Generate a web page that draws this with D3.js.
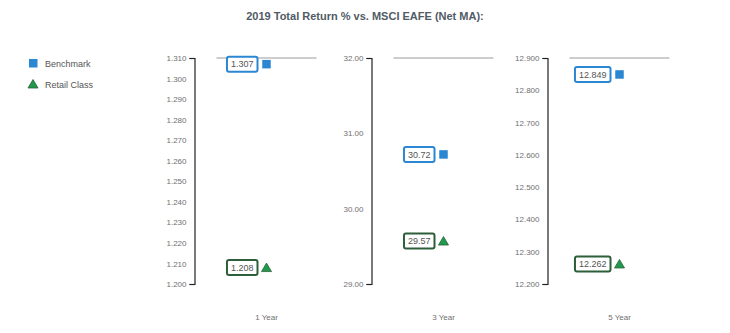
<!DOCTYPE html>
<html><head><meta charset="utf-8">
<script src="https://cdn.jsdelivr.net/npm/d3@7"></script>
<style>
body{margin:0;background:#fff;}
text{font-family:"Liberation Sans",Arial,sans-serif;}
</style></head>
<body><svg id="c" width="730" height="333"></svg>
<script>
const title = "2019 Total Return % vs. MSCI EAFE (Net MA):";
const categories = ["1 Year", "3 Year", "5 Year"];
const seriesNames = ["Benchmark", "Retail Class"];
const benchmark = [1.307, 30.72, 12.849];
const retail = [1.208, 29.57, 12.262];
const benchmarkLabels = ["1.307", "30.72", "12.849"];
const retailLabels = ["1.208", "29.57", "12.262"];
const domains = [[1.200, 1.310], [29.00, 32.00], [12.200, 12.900]];
const tickStep = [0.01, 1, 0.1];
const tickFormat = [".3f", ".2f", ".3f"];

const svg = d3.select("#c");
const blue = "#2c87d2", green = "#1f9a4c", greenStroke = "#2d5f3b";
const textCol = "#6f6f6f";
const tri = d3.line()([[-5, 4], [0, -4.5], [5, 4]]) + "Z";

svg.append("text").attr("x", 365).attr("y", 20).attr("text-anchor", "middle")
  .attr("font-size", 11).attr("font-weight", "bold").attr("fill", "#505b66").text(title);

// legend
const lg = svg.append("g");
lg.append("rect").attr("x", 29).attr("y", 59).attr("width", 8.5).attr("height", 8.5).attr("fill", blue);
lg.append("text").attr("x", 45).attr("y", 66.5).attr("font-size", 9).attr("fill", "#555").text(seriesNames[0]);
lg.append("path").attr("d", tri).attr("transform", "translate(33,84)")
  .attr("fill", green).attr("stroke", greenStroke).attr("stroke-width", 0.8);
lg.append("text").attr("x", 45).attr("y", 87.5).attr("font-size", 9).attr("fill", "#555").text(seriesNames[1]);

const axisX = [194.5, 371.5, 547.5];
const yTop = 58, yBot = 284;

categories.forEach((cat, i) => {
  const y = d3.scaleLinear().domain(domains[i]).range([yBot, yTop]);
  const ticks = d3.range(domains[i][0], domains[i][1] + tickStep[i] / 2, tickStep[i]);
  const g = svg.append("g").attr("transform", `translate(${axisX[i]},0)`);
  const ax = d3.axisLeft(y).tickValues(ticks).tickFormat(d3.format(tickFormat[i])).tickSize(5).tickSizeOuter(5).tickPadding(3);
  g.call(ax);
  g.select(".domain").attr("stroke", "#222").attr("stroke-width", 1.2);
  g.selectAll(".tick line").attr("stroke", "#222").attr("stroke-width", 1.2)
    .attr("opacity", (d, k) => (k === 0 || k === ticks.length - 1) ? 1 : 0);
  g.selectAll(".tick text").attr("font-size", 8).attr("fill", textCol).attr("font-family", "Liberation Sans,Arial,sans-serif");

  // top grey line
  svg.append("line").attr("x1", axisX[i] + 22).attr("x2", axisX[i] + 122)
    .attr("y1", y(domains[i][1])).attr("y2", y(domains[i][1]))
    .attr("stroke", "#bdbdbd").attr("stroke-width", 1.5);

  const mx = axisX[i] + 72;
  // category label
  svg.append("text").attr("x", mx).attr("y", 320).attr("text-anchor", "middle")
    .attr("font-size", 8).attr("fill", textCol).text(cat);

  const pts = [
    {v: benchmark[i], lab: benchmarkLabels[i], col: blue, type: "sq"},
    {v: retail[i], lab: retailLabels[i], col: greenStroke, type: "tri"}
  ];
  pts.forEach(p => {
    const py = y(p.v);
    if (p.type === "sq") {
      svg.append("rect").attr("x", mx - 4.25).attr("y", py - 4.25).attr("width", 8.5).attr("height", 8.5).attr("fill", blue);
    } else {
      svg.append("path").attr("d", tri)
        .attr("transform", `translate(${mx},${py})`)
        .attr("fill", green).attr("stroke", greenStroke).attr("stroke-width", 0.8);
    }
    const t = svg.append("text").attr("font-size", 9).attr("fill", "#555").attr("text-anchor", "end")
      .attr("x", mx - 13).attr("y", py + 3.2).text(p.lab);
    const bb = t.node().getBBox();
    svg.insert("rect", () => t.node())
      .attr("x", bb.x - 4).attr("y", py - 7.5).attr("width", bb.width + 8).attr("height", 15)
      .attr("rx", 2).attr("fill", "#fff").attr("stroke", p.col).attr("stroke-width", 2);
  });
});
</script></body></html>
